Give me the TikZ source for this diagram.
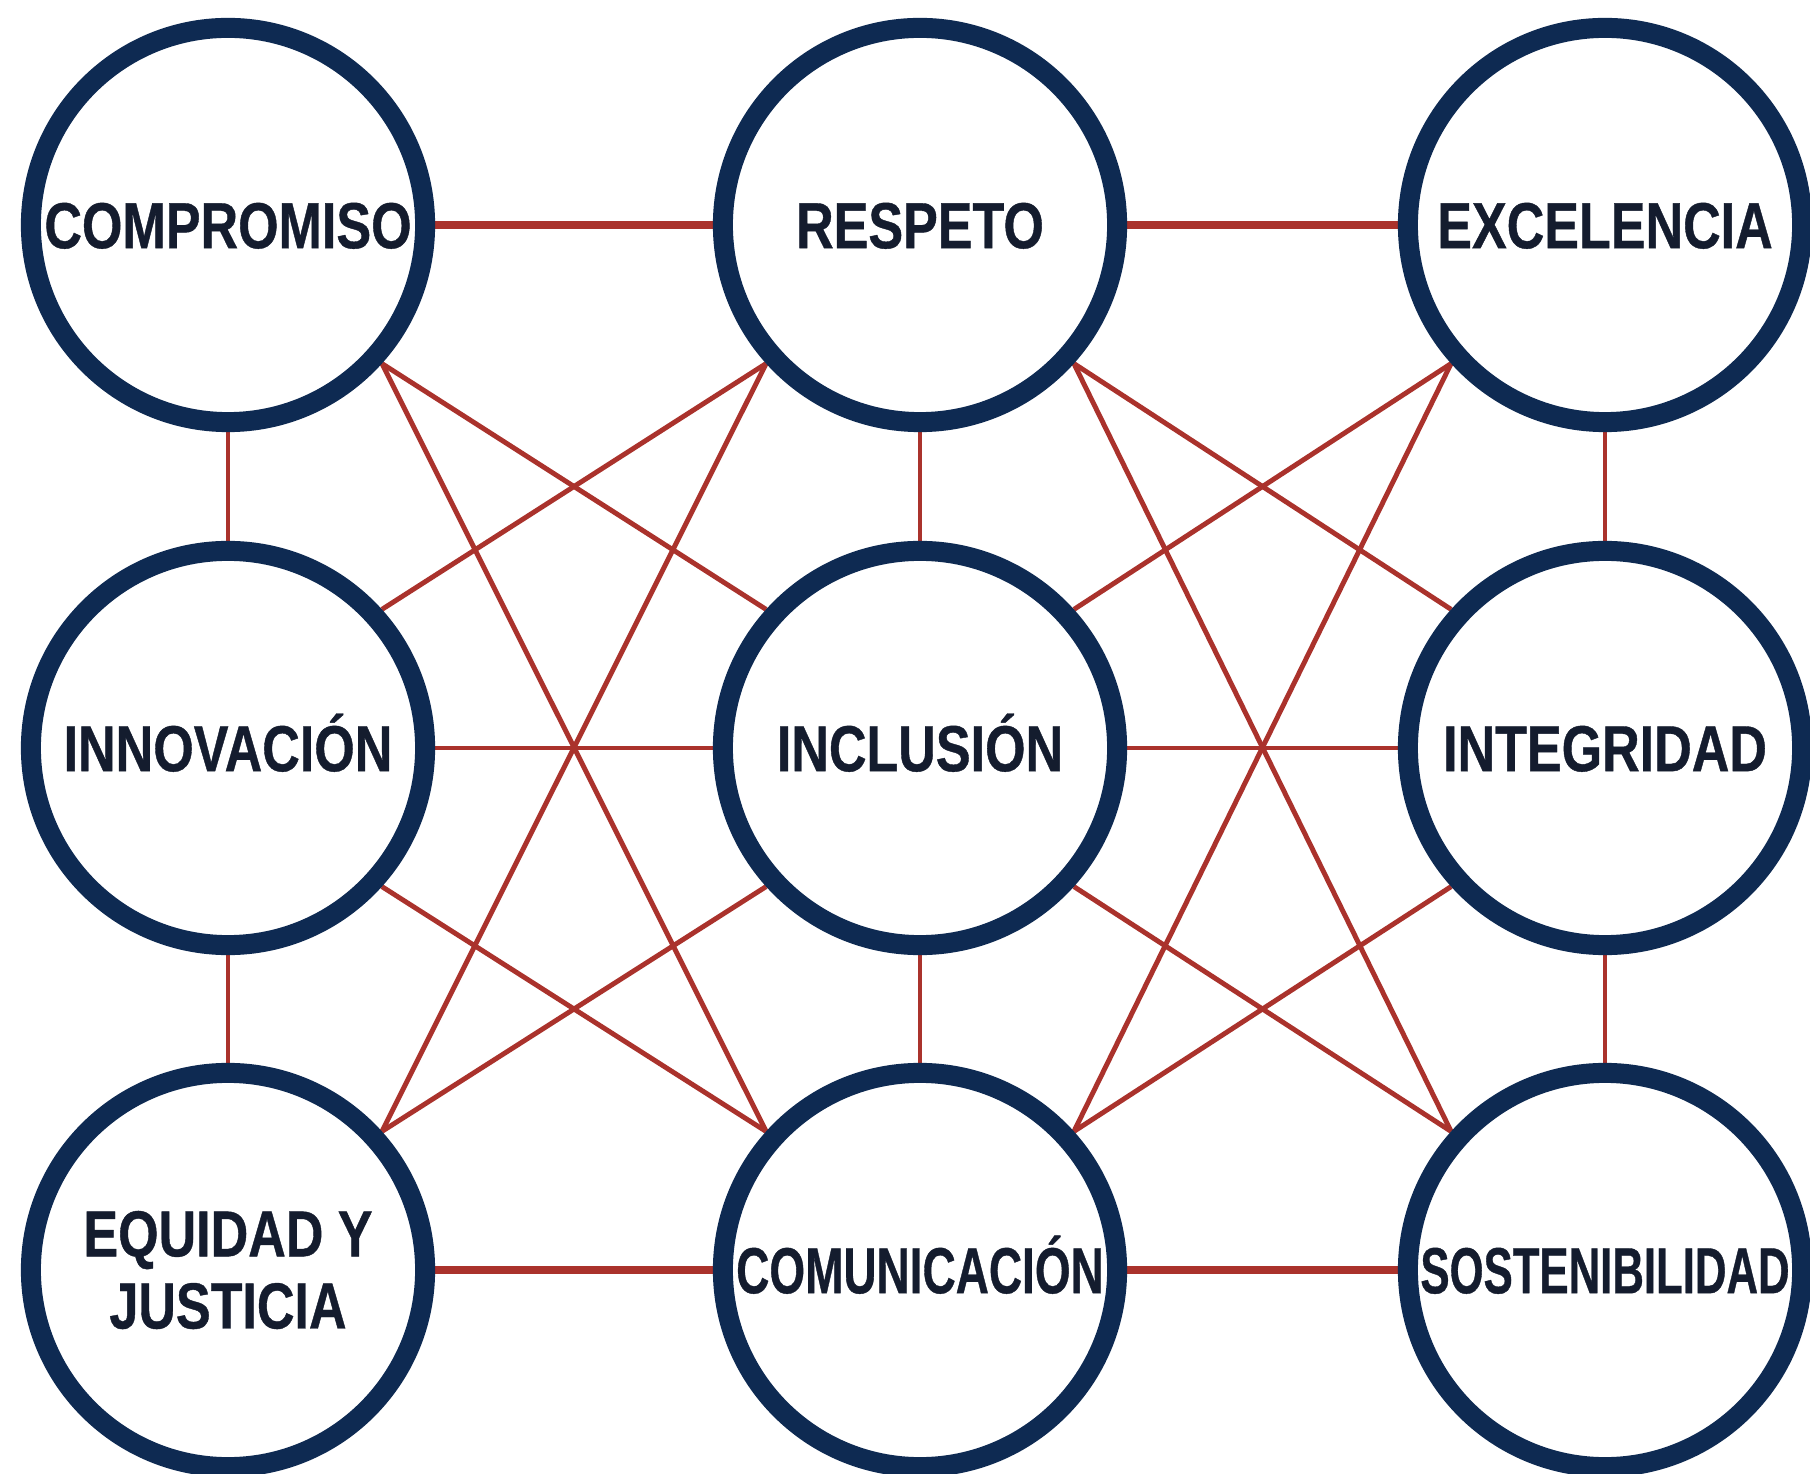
\documentclass[tikz,border=0pt]{standalone}
\usepackage{fontspec}
\usetikzlibrary{backgrounds}
\newfontfamily\lblfont{Liberation Sans Bold}[FakeStretch=0.80,FakeBold=0.6]
\definecolor{navy}{HTML}{0E2A52}
\definecolor{ink}{HTML}{141C2E}
\definecolor{linkred}{HTML}{AA322C}
\begin{document}
\begin{tikzpicture}[x=0.01cm,y=0.01cm,
  valuenode/.style={circle,draw=navy,line width=0.20cm,fill=white,minimum size=3.94cm,inner sep=0pt,
    text=ink,font=\lblfont\fontsize{18.5pt}{20.5pt}\selectfont,align=center},
  oneline/.style={text height=13.2pt,text depth=0pt},
  link/.style={draw=linkred,line width=1.4pt},
  thicklink/.style={draw=linkred,line width=2pt}]
\useasboundingbox (0,0) rectangle (1810,-1474);
\node[valuenode,oneline] (c11) at (228,-225) {COMPROMISO};
\node[valuenode,oneline] (c12) at (920,-225) {RESPETO};
\node[valuenode,oneline] (c13) at (1605,-225) {EXCELENCIA};
\node[valuenode,oneline] (c21) at (228,-748) {INNOVACIÓN};
\node[valuenode,oneline] (c22) at (920,-748) {INCLUSIÓN};
\node[valuenode,oneline] (c23) at (1605,-748) {INTEGRIDAD};
\node[valuenode] (c31) at (228,-1270) {EQUIDAD Y\\JUSTICIA};
\node[valuenode,oneline] (c32) at (920,-1270) {\scalebox{0.883}[1]{COMUNICACIÓN}};
\node[valuenode,oneline] (c33) at (1605,-1270) {\scalebox{0.84}[1]{SOSTENIBILIDAD}};
\begin{scope}[on background layer]
  \fill[white] (0,0) rectangle (1810,-1474);
  % horizontal
  \draw[thicklink] (c11.east) -- (c12.west);
  \draw[thicklink] (c12.east) -- (c13.west);
  \draw[link] (c21.east) -- (c22.west);
  \draw[link] (c22.east) -- (c23.west);
  \draw[thicklink] (c31.east) -- (c32.west);
  \draw[thicklink] (c32.east) -- (c33.west);
  % vertical
  \draw[link] (c11.south) -- (c21.north);
  \draw[link] (c21.south) -- (c31.north);
  \draw[link] (c12.south) -- (c22.north);
  \draw[link] (c22.south) -- (c32.north);
  \draw[link] (c13.south) -- (c23.north);
  \draw[link] (c23.south) -- (c33.north);
  % diagonals
  \draw[link] (c11.-42) -- (c22.138);
  \draw[link] (c11.-42) -- (c32.138);
  \draw[link] (c12.222) -- (c21.42);
  \draw[link] (c12.222) -- (c31.42);
  \draw[link] (c12.-42) -- (c23.138);
  \draw[link] (c12.-42) -- (c33.138);
  \draw[link] (c13.222) -- (c22.42);
  \draw[link] (c13.222) -- (c32.42);
  \draw[link] (c21.-42) -- (c32.138);
  \draw[link] (c22.222) -- (c31.42);
  \draw[link] (c22.-42) -- (c33.138);
  \draw[link] (c23.222) -- (c32.42);
\end{scope}
\end{tikzpicture}
\end{document}
